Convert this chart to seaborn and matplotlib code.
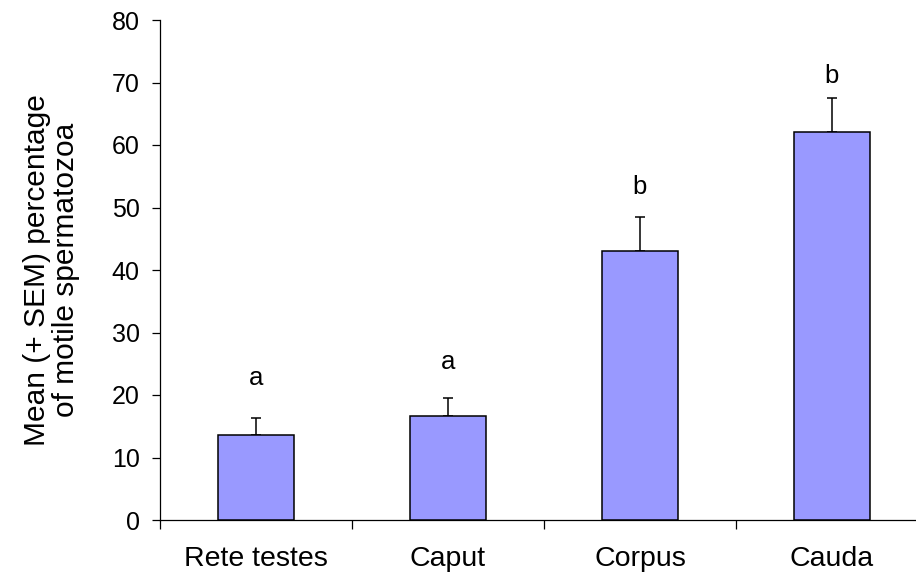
import matplotlib
matplotlib.use("Agg")
import matplotlib.pyplot as plt
import seaborn as sns
import pandas as pd

# values
regions = ["Rete testes", "Caput", "Corpus", "Cauda"]
mean_motile = [13.6, 16.6, 43.1, 62.1]
sem_motile = [2.7, 3.0, 5.4, 5.4]
letters = ["a", "a", "b", "b"]
letter_y = [22.7, 25.3, 53.3, 71.0]

df = pd.DataFrame({"region": regions, "motile": mean_motile})

sns.set_style("white")
plt.rcParams["font.family"] = ["Liberation Sans", "DejaVu Sans"]
plt.rcParams["text.color"] = "black"
plt.rcParams["xtick.color"] = "black"
plt.rcParams["ytick.color"] = "black"
plt.rcParams["axes.labelcolor"] = "black"

fig = plt.figure(figsize=(9.16, 5.8), dpi=100)
ax = fig.add_axes([160 / 916, 60 / 580, 768 / 916, 500 / 580])

sns.barplot(data=df, x="region", y="motile", color="#9999FF", saturation=1,
            edgecolor="black", linewidth=1.1, width=0.4, errorbar=None,
            ax=ax, zorder=3)

# upper error bars only (+ SEM)
ax.errorbar(range(len(regions)), mean_motile,
            yerr=[[0] * len(regions), sem_motile],
            fmt="none", ecolor="black", elinewidth=1.1, capsize=3.8,
            capthick=1.1, zorder=2)

for i, (lab, yy) in enumerate(zip(letters, letter_y)):
    ax.text(i, yy, lab, ha="center", va="center", fontsize=18.5)

ax.set_xlim(-0.5, 3.5)
ax.set_ylim(0, 80)
ax.set_yticks(range(0, 81, 10))
ax.tick_params(axis="y", direction="out", length=5.5, width=0.9, pad=9,
               labelsize=18, left=True)
ax.set_xticks(range(len(regions)))
ax.set_xticklabels(regions)
ax.tick_params(axis="x", length=0, pad=19, labelsize=20.5)
ax.set_xticks([-0.5, 0.5, 1.5, 2.5, 3.5], minor=True)
ax.tick_params(axis="x", which="minor", direction="out", length=6.5,
               width=0.9, bottom=True)

for side in ["top", "right"]:
    ax.spines[side].set_visible(False)
for side in ["left", "bottom"]:
    ax.spines[side].set_linewidth(0.9)
    ax.spines[side].set_color("black")

ax.set_xlabel("")
ax.set_ylabel("Mean (+ SEM) percentage\nof motile spermatozoa", fontsize=21.5,
              linespacing=1.05)
ax.yaxis.set_label_coords(-80 / 768, 0.5)

fig.savefig("out.png", dpi=100)
